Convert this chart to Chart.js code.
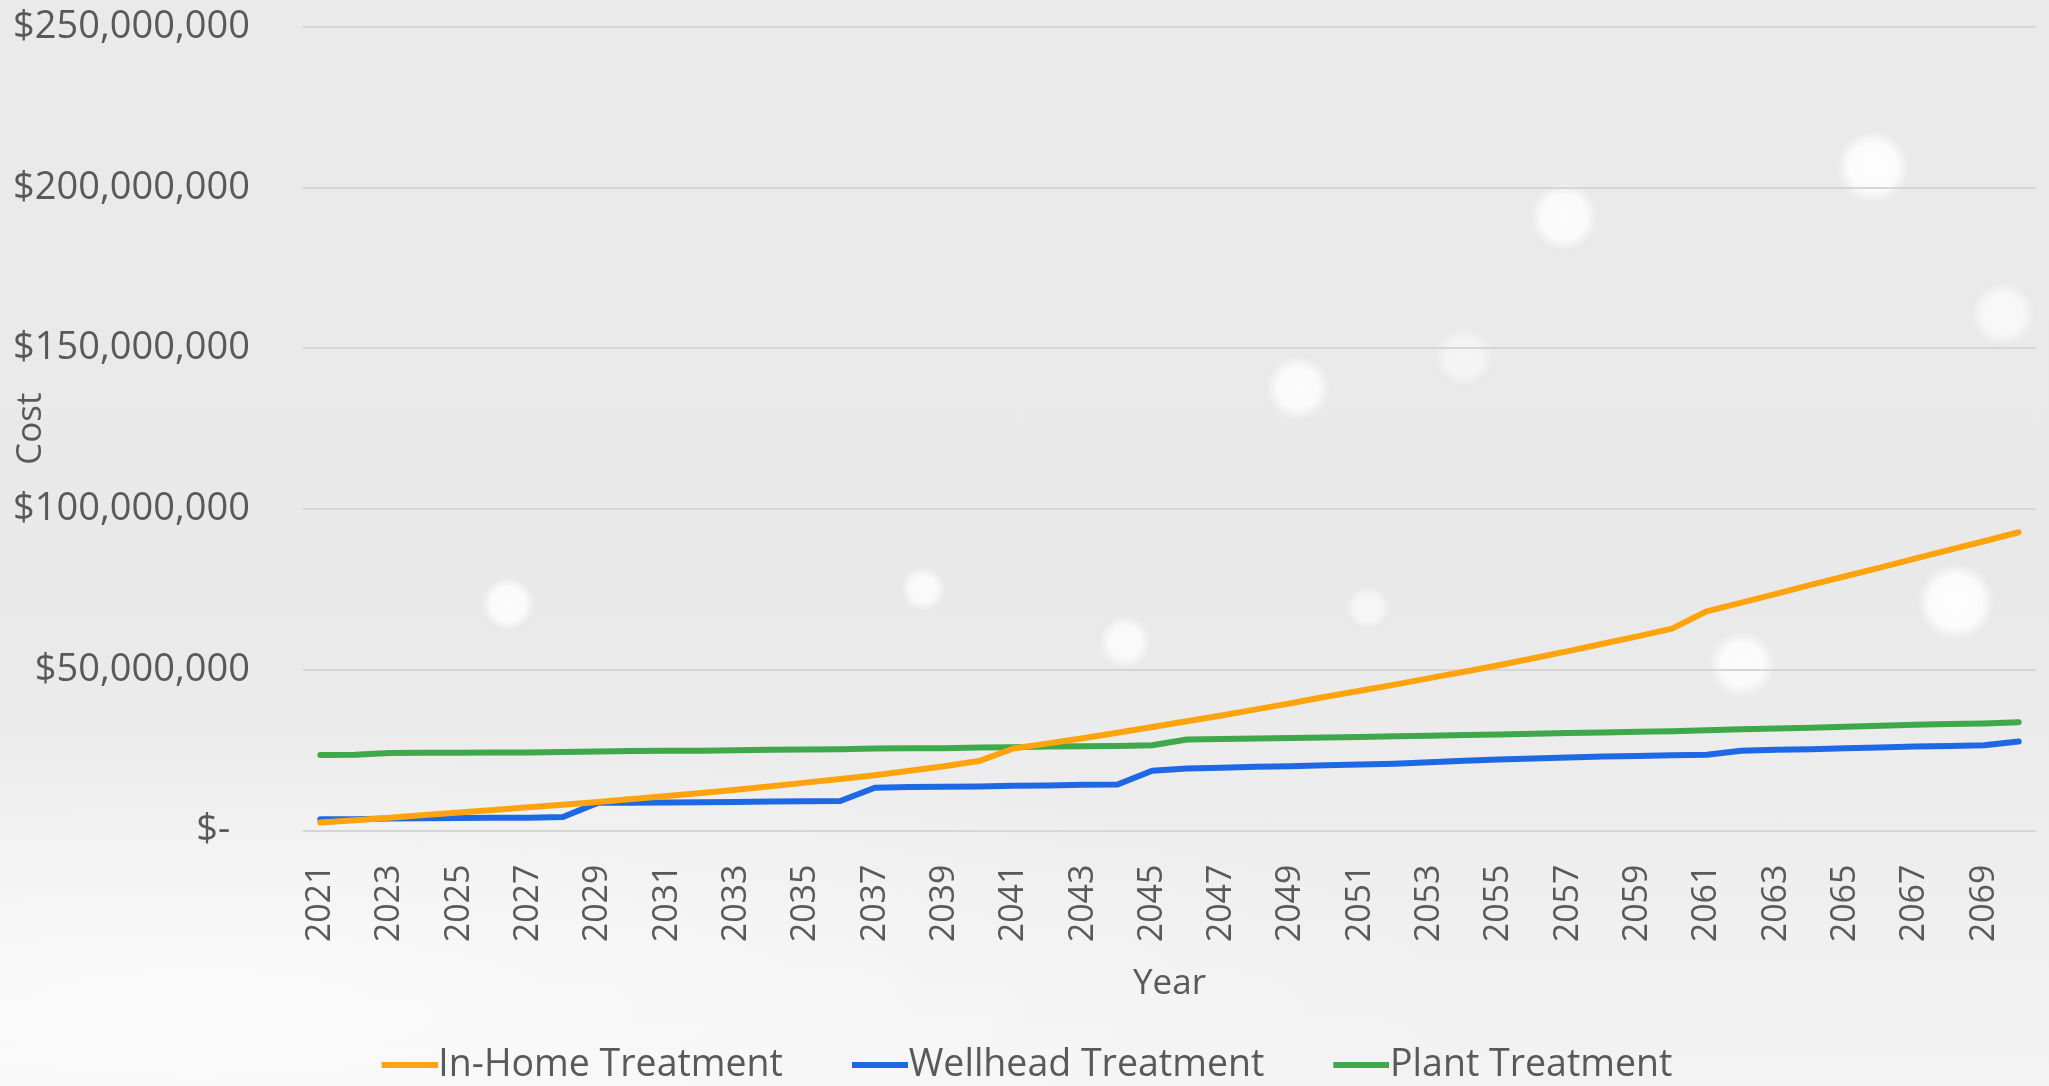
<!DOCTYPE html>
<html>
<head>
<meta charset="utf-8">
<script src="https://cdn.jsdelivr.net/npm/chart.js@4.4.1/dist/chart.umd.min.js"></script>
<style>
  html, body { margin: 0; padding: 0; overflow: hidden; }
  body {
    width: 2049px; height: 1086px;
    background:
      radial-gradient(circle at 1873px 167px, rgba(255,255,255,0.9) 0, rgba(255,255,255,0.85) 24px, rgba(255,255,255,0) 36px),
      radial-gradient(circle at 1564px 217px, rgba(255,255,255,0.85) 0, rgba(255,255,255,0.8) 22px, rgba(255,255,255,0) 34px),
      radial-gradient(circle at 1298px 388px, rgba(255,255,255,0.85) 0, rgba(255,255,255,0.8) 20px, rgba(255,255,255,0) 32px),
      radial-gradient(circle at 1464px 357px, rgba(255,255,255,0.55) 0, rgba(255,255,255,0.5) 18px, rgba(255,255,255,0) 30px),
      radial-gradient(circle at 2003px 314px, rgba(255,255,255,0.7) 0, rgba(255,255,255,0.65) 20px, rgba(255,255,255,0) 32px),
      radial-gradient(circle at 1956px 602px, rgba(255,255,255,0.9) 0, rgba(255,255,255,0.85) 26px, rgba(255,255,255,0) 38px),
      radial-gradient(circle at 1742px 664px, rgba(255,255,255,0.85) 0, rgba(255,255,255,0.8) 21px, rgba(255,255,255,0) 33px),
      radial-gradient(circle at 508px 604px, rgba(255,255,255,0.85) 0, rgba(255,255,255,0.8) 17px, rgba(255,255,255,0) 27px),
      radial-gradient(circle at 923px 589px, rgba(255,255,255,0.8) 0, rgba(255,255,255,0.75) 13px, rgba(255,255,255,0) 22px),
      radial-gradient(circle at 1125px 642px, rgba(255,255,255,0.8) 0, rgba(255,255,255,0.75) 16px, rgba(255,255,255,0) 26px),
      radial-gradient(circle at 1368px 608px, rgba(255,255,255,0.6) 0, rgba(255,255,255,0.55) 13px, rgba(255,255,255,0) 22px),
      radial-gradient(ellipse 1300px 280px at 200px 1010px, rgba(255,255,255,0.7), rgba(255,255,255,0) 100%),
      linear-gradient(to bottom, #eaeaea 0%, #e9e9e9 55%, #eeeeee 80%, #f3f3f3 100%);
  }
  canvas { display: block; }
</style>
</head>
<body>
<canvas id="costChart" width="2049" height="1086"></canvas>
<script>
const years = ['2021','2022','2023','2024','2025','2026','2027','2028','2029','2030',
  '2031','2032','2033','2034','2035','2036','2037','2038','2039','2040',
  '2041','2042','2043','2044','2045','2046','2047','2048','2049','2050',
  '2051','2052','2053','2054','2055','2056','2057','2058','2059','2060',
  '2061','2062','2063','2064','2065','2066','2067','2068','2069','2070'];

// values in $ millions
const inHome = [2.5, 3.2, 4.0, 4.8, 5.6, 6.4, 7.2, 8.0, 8.9, 9.8,
  10.7, 11.7, 12.7, 13.8, 14.9, 16.0, 17.2, 18.6, 20.0, 21.6,
  25.5, 27.1, 28.7, 30.4, 32.2, 34.0, 35.8, 37.7, 39.6, 41.6,
  43.5, 45.4, 47.4, 49.4, 51.4, 53.6, 55.8, 58.1, 60.4, 62.8,
  68.2, 70.9, 73.6, 76.4, 79.1, 81.8, 84.6, 87.3, 90.0, 92.8];
const wellhead = [3.5, 3.5, 3.7, 3.8, 3.9, 4.0, 4.0, 4.2, 8.6, 8.6,
  8.7, 8.8, 8.9, 9.0, 9.1, 9.2, 13.3, 13.5, 13.6, 13.7,
  13.9, 14.0, 14.2, 14.3, 18.6, 19.3, 19.5, 19.8, 20.0, 20.3,
  20.5, 20.8, 21.2, 21.7, 22.1, 22.4, 22.7, 23.0, 23.2, 23.4,
  23.6, 24.8, 25.1, 25.3, 25.6, 25.8, 26.1, 26.3, 26.5, 27.7];
const plant = [23.5, 23.6, 24.1, 24.2, 24.2, 24.3, 24.3, 24.4, 24.6, 24.7,
  24.8, 24.8, 25.0, 25.1, 25.2, 25.3, 25.5, 25.6, 25.6, 25.8,
  25.9, 26.1, 26.2, 26.3, 26.5, 28.3, 28.5, 28.6, 28.8, 28.9,
  29.1, 29.3, 29.5, 29.7, 29.9, 30.1, 30.3, 30.5, 30.7, 30.9,
  31.2, 31.5, 31.7, 32.0, 32.3, 32.6, 32.9, 33.1, 33.3, 33.7];

const yTicks = [0, 50000000, 100000000, 150000000, 200000000, 250000000];

const textColor = '#595959';
const fam = '"Open Sans", Lato, sans-serif';

const toDollars = arr => arr.map(v => v * 1000000);

// legend marker: a short line sitting right next to the label text
function legendLine(color) {
    const c = document.createElement('canvas');
    c.width = 78;
    c.height = 6;
    const g = c.getContext('2d');
    g.fillStyle = color;
    g.fillRect(22, 0, 56, 6);
    return c;
}

function makeSet(label, values, color) {
    return {
        label: label, data: toDollars(values),
        borderColor: color, backgroundColor: color, pointBorderColor: color,
        legendMarker: legendLine(color)
    };
}

const ctx = document.getElementById('costChart').getContext('2d');
new Chart(ctx, {
    type: 'line',
    data: {
        labels: years,
        datasets: [
            makeSet('In-Home Treatment', inHome, '#ffa40f'),
            makeSet('Wellhead Treatment', wellhead, '#1f68e3'),
            makeSet('Plant Treatment', plant, '#3ea84a')
        ]
    },
    options: {
        responsive: false,
        animation: false,
        layout: { padding: { top: 27, right: 13, left: 14, bottom: -8 } },
        elements: {
            point: { radius: 0 },
            line: { tension: 0, borderWidth: 6, borderCapStyle: 'round', borderJoinStyle: 'round' }
        },
        scales: {
            x: {
                offset: true,
                grid: { display: false, drawTicks: false },
                border: { display: false },
                ticks: {
                    autoSkip: false, minRotation: 90, maxRotation: 90, padding: 34,
                    color: textColor, font: { family: fam, size: 34 },
                    callback: (v, i) => (i % 2 === 0 ? years[i] : '')
                },
                title: { display: true, text: 'Year', color: textColor, font: { family: fam, size: 35 }, padding: { top: 0, bottom: -24 } },
                afterFit: s => { s.height = 151; s.paddingLeft = 0; s.paddingRight = 0; }
            },
            y: {
                min: 0, max: 250000000,
                afterBuildTicks: axis => { axis.ticks = yTicks.map(v => ({ value: v })); },
                grid: { color: '#d6d6d6', lineWidth: 2, drawTicks: false },
                border: { display: false },
                ticks: {
                    padding: 53, color: textColor, font: { family: fam, size: 38 },
                    callback: v => (v === 0 ? '$-  ' : '$' + v.toLocaleString('en-US'))
                },
                title: { display: true, text: 'Cost', color: textColor, font: { family: fam, size: 35 }, padding: { top: -4, bottom: 0 } },
                afterFit: s => { s.width = 289; s.paddingTop = 0; s.paddingBottom = 0; }
            }
        },
        plugins: {
            tooltip: { enabled: false },
            legend: {
                position: 'bottom',
                labels: {
                    usePointStyle: true, pointStyleWidth: 42,
                    padding: 65, color: textColor, font: { family: fam, size: 37.5 },
                    generateLabels: chart => Chart.defaults.plugins.legend.labels.generateLabels(chart)
                        .map(item => Object.assign(item, {
                            pointStyle: chart.data.datasets[item.datasetIndex].legendMarker
                        }))
                }
            }
        }
    }
});
</script>
</body>
</html>
